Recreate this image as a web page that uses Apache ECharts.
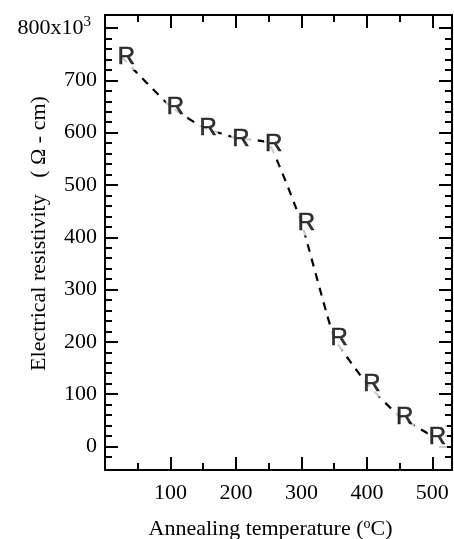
<!DOCTYPE html>
<html>
<head>
<meta charset="utf-8">
<script src="https://cdn.jsdelivr.net/npm/echarts@6/dist/echarts.min.js"></script>
<style>html,body{margin:0;padding:0;background:#fff}#c{width:454px;height:539px}</style>
</head>
<body>
<div id="c"></div>
<script>
const temperatures = [25, 100, 150, 200, 250, 300, 350, 400, 450, 500];
const resistivity = [745, 650, 610, 590, 580, 428, 208, 120, 57, 20];
const xMajorTicks = [100, 200, 300, 400, 500];
const xMinorTicks = [50, 150, 250, 350, 450];
const yMajorTicks = [0, 100, 200, 300, 400, 500, 600, 700, 800];
const yMinorTicks = [-20, 20, 40, 60, 80, 120, 140, 160, 180, 220, 240, 260, 280, 320, 340, 360, 380, 420, 440, 460, 480, 520, 540, 560, 580, 620, 640, 660, 680, 720, 740, 760, 780];

const serif = 'Liberation Serif, Times New Roman, serif';
const black = '#000';
const X_MIN = 0, X_MAX = 530, Y_MIN = -45, Y_MAX = 825;
const supStyle = { fontSize: 15, fontFamily: serif, color: black, verticalAlign: 'top', padding: [0, 0, 12, 0] };

function xAxisDef(pos, ticks, len, withLine, withLabel) {
  return {
    type: 'value', position: pos, min: X_MIN, max: X_MAX,
    axisLine: { show: withLine, onZero: false, lineStyle: { color: black, width: 2 } },
    axisTick: { show: true, inside: true, length: len, customValues: ticks, lineStyle: { color: black, width: 2 } },
    axisLabel: withLabel ? { show: true, customValues: ticks, color: black, fontFamily: serif, fontSize: 22, margin: 12 } : { show: false },
    splitLine: { show: false }
  };
}
function yAxisDef(pos, ticks, len, withLine, withLabel) {
  return {
    type: 'value', position: pos, min: Y_MIN, max: Y_MAX,
    axisLine: { show: withLine, onZero: false, lineStyle: { color: black, width: 2 } },
    axisTick: { show: true, inside: true, length: len, customValues: ticks, lineStyle: { color: black, width: 2 } },
    axisLabel: withLabel ? {
      show: true, customValues: ticks, color: black, fontFamily: serif, fontSize: 22, margin: 8,
      formatter: v => v === 800 ? '{m|800x10}{sup|3}{p|}' : String(v),
      rich: { m: { fontSize: 22, fontFamily: serif, color: black }, sup: supStyle, p: { width: 6 } }
    } : { show: false },
    splitLine: { show: false }
  };
}

const xAxes = [
  xAxisDef('bottom', xMajorTicks, 13, true, true),
  xAxisDef('bottom', xMinorTicks, 7, false, false),
  xAxisDef('top', xMajorTicks, 13, true, false),
  xAxisDef('top', xMinorTicks, 7, false, false)
];
Object.assign(xAxes[0], {
  name: '{m|Annealing temperature (}{sup|o}{m|C)}', nameLocation: 'middle', nameGap: 47, nameMoveOverlap: false,
  nameTextStyle: { color: black, fontFamily: serif, fontSize: 22, padding: [0, 16, 0, 0],
    rich: { m: { fontSize: 22, fontFamily: serif, color: black }, sup: { fontSize: 14, fontFamily: serif, color: black, verticalAlign: 'top', padding: [0, 0, 10, 0] } } }
});
const yAxes = [
  yAxisDef('left', yMajorTicks, 13, true, true),
  yAxisDef('left', yMinorTicks, 7, false, false),
  yAxisDef('right', yMajorTicks, 13, true, false),
  yAxisDef('right', yMinorTicks, 7, false, false)
];
Object.assign(yAxes[0], {
  name: 'Electrical resistivity   ( \u03A9 - cm)', nameLocation: 'middle', nameGap: 55, nameRotate: 90, nameMoveOverlap: false,
  nameTextStyle: { color: black, fontFamily: serif, fontSize: 22, padding: [0, 0, 0, 18] }
});

const points = temperatures.map((t, i) => [t, resistivity[i]]);

const chart = echarts.init(document.getElementById('c'), null, { renderer: 'canvas' });
chart.setOption({
  backgroundColor: '#fff',
  animation: false,
  grid: { left: 105, right: 2, top: 15, bottom: 69, containLabel: false, outerBoundsMode: 'none' },
  xAxis: xAxes,
  yAxis: yAxes,
  series: [
    {
      type: 'line', data: points, xAxisIndex: 0, yAxisIndex: 0,
      smooth: 0.12, symbol: 'none',
      lineStyle: { color: black, width: 2.2, type: [8, 7] }
    },
    {
      type: 'scatter', data: points, xAxisIndex: 0, yAxisIndex: 0,
      symbolSize: 1, itemStyle: { color: 'rgba(0,0,0,0)' },
      label: {
        show: true, position: 'inside', formatter: 'R', offset: [5, 1],
        color: black, fontFamily: 'Liberation Sans, Arial, sans-serif', fontSize: 24,
        textBorderColor: black, textBorderWidth: 0.6,
        backgroundColor: '#fff', padding: [0, 1, 0, 1]
      },
      z: 5
    }
  ]
});
</script>
</body>
</html>
